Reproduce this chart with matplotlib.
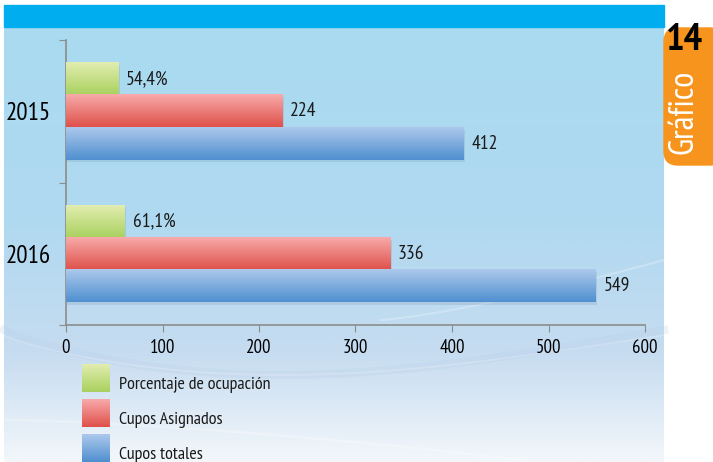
import numpy as np
import matplotlib
matplotlib.use('Agg')
import matplotlib.pyplot as plt
from matplotlib.patches import Rectangle, FancyBboxPatch
from matplotlib.colors import LinearSegmentedColormap

# data
years = ['2015', '2016']
ocupacion = [54.4, 61.1]          # percent, drawn on the same scale
asignados = [224, 336]
totales = [412, 549]
ocupacion_labels = ['54,4%', '61,1%']
series_names = ['Porcentaje de ocupación', 'Cupos Asignados', 'Cupos totales']
xticks = [0, 100, 200, 300, 400, 500, 600]

# gradient colours (top, bottom) for each series
grad = [('#e2edb0', '#a9d15e'), ('#f8abab', '#df5049'), ('#adc9ec', '#4f8fd0')]

FONT = ['PT Sans Narrow', 'Roboto Condensed', 'DejaVu Sans']
plt.rcParams['font.family'] = FONT

W, H = 713, 462
fig = plt.figure(figsize=(W / 100, H / 100), dpi=100)
fig.patch.set_facecolor('white')

# background panel (pixel coords)
bg = fig.add_axes([0, 0, 1, 1])
bg.set_xlim(0, W)
bg.set_ylim(H, 0)
bg.axis('off')
g = np.linspace(0, 1, 256)[:, None]
bgcmap = LinearSegmentedColormap.from_list('bg', [(0, '#a9dbf1'), (0.45, '#b0d9f0'),
                                                  (0.75, '#c6dcf0'), (1, '#f3f7fb')])
bg.imshow(g, cmap=bgcmap, aspect='auto', extent=(4, 664, H, 27), zorder=0)
# faint swooshes
t = np.linspace(0, 1, 200)
bg.plot(4 + 660 * t, 330 + 45 * np.sin(np.pi * t ** 0.8), color='#b9d0ea', alpha=0.25, lw=6, zorder=1)
bg.plot(4 + 660 * t, 335 + 40 * np.sin(np.pi * t ** 0.8), color='white', alpha=0.2, lw=1.2, zorder=1)
bg.plot(4 + 520 * t, 420 + 40 * t ** 1.5, color='white', alpha=0.25, lw=2, zorder=1)
bg.plot(380 + 284 * t, 320 - 60 * t ** 1.3, color='white', alpha=0.25, lw=1.5, zorder=1)
bg.add_patch(Rectangle((4, 5), 660, 22, color='#00aeef', zorder=2))
# orange tab
bg.add_patch(FancyBboxPatch((664, 28), 60, 137, boxstyle='round,pad=0,rounding_size=14',
                            color='#f7941d', zorder=2))
bg.text(666, 41, '14', ha='left', va='center', fontsize=28, fontweight='bold', color='black', zorder=3)
bg.text(683, 112, 'Gráfico', ha='center', va='center', fontsize=25, rotation=90, color='white', zorder=3)

# chart axes
ax = fig.add_axes([66 / W, 1 - 325 / H, 579 / W, 285 / H])
ax.patch.set_alpha(0)

h = 0.228
series = [ocupacion, asignados, totales]
labels = [ocupacion_labels, [str(v) for v in asignados], [str(v) for v in totales]]
for k, vals in enumerate(series):
    ypos = np.arange(len(years)) + 0.5 + (k - 1) * h
    bars = ax.barh(ypos, vals, height=h, color=grad[k][1], zorder=2)
    cm = LinearSegmentedColormap.from_list('g%d' % k, grad[k])
    for b, lab in zip(bars, labels[k]):
        x0, y0 = b.get_x(), b.get_y()
        bw, bh = b.get_width(), b.get_height()
        # soft shadow
        ax.add_patch(Rectangle((x0 + 1.5, y0 + 0.015), bw, bh, color='#6d87a6', alpha=0.2, zorder=1, lw=0))
        ax.imshow(g, cmap=cm, aspect='auto', extent=(x0, x0 + bw, y0 + bh, y0), zorder=3)
        ax.text(x0 + bw + 8, y0 + bh / 2, lab, va='center', ha='left', fontsize=14, color='#1a1a1a', zorder=4)

ax.set_xlim(0, 600)
ax.set_ylim(2, 0)
ax.set_xticks(xticks)
ax.set_xticklabels([str(v) for v in xticks], fontsize=13.5)
ax.set_yticks([0, 1, 2])
ax.set_yticklabels([])
ax.set_yticks([0.5, 1.5], minor=True)
ax.set_yticklabels(years, minor=True, fontsize=18)
ax.tick_params(axis='y', which='minor', length=0, pad=11)
ax.tick_params(axis='both', which='major', direction='out', length=5, color='#8c8c8c', pad=5)
for s in ['top', 'right']:
    ax.spines[s].set_visible(False)
for s in ['left', 'bottom']:
    ax.spines[s].set_color('#8c8c8c')
    ax.spines[s].set_linewidth(1.2)

# legend swatches in pixel coords
for k, name in enumerate(series_names):
    y0 = 364 + k * 35
    cm = LinearSegmentedColormap.from_list('l%d' % k, grad[k])
    bg.imshow(g, cmap=cm, aspect='auto', extent=(82, 110, y0 + 28, y0), zorder=3)
    bg.text(119, y0 + 21, name, va='center', ha='left', fontsize=13, color='#1a1a1a', zorder=3)
bg.set_xlim(0, W)
bg.set_ylim(H, 0)

fig.savefig('out.png', dpi=100)
